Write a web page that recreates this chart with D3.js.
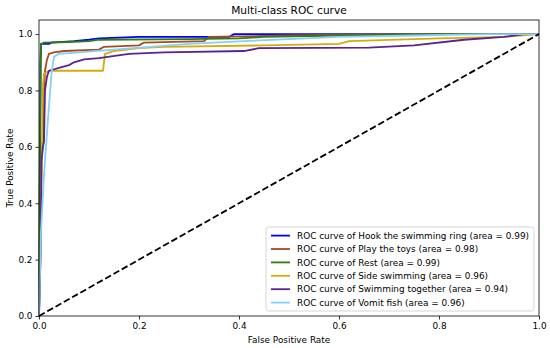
<!DOCTYPE html>
<html>
<head>
<meta charset="utf-8">
<script src="https://cdn.jsdelivr.net/npm/d3@7"></script>
<style>
  html, body { margin: 0; padding: 0; background: #fff; }
  svg { display: block; font-family: "DejaVu Sans", sans-serif; }
</style>
</head>
<body>
<div id="chart"></div>
<script>
// Class names and their AUC values (legend order = drawing order).
const classNames = [
  "Hook the swimming ring",
  "Play the toys",
  "Rest",
  "Side swimming",
  "Swimming together",
  "Vomit fish",
];
const aucValues = [0.99, 0.98, 0.99, 0.96, 0.94, 0.96];

// ROC points per class, [fpr, tpr].
const hookRing = [[0, 0], [0.002, 0.35], [0.003, 0.9], [0.004, 0.965], [0.02, 0.965], [0.025, 0.97], [0.07, 0.975], [0.1, 0.98], [0.12, 0.985], [0.2, 0.99], [0.38, 0.99], [0.39, 1.0], [1, 1]];
const playToys = [[0, 0], [0.003, 0.25], [0.005, 0.6], [0.008, 0.62], [0.01, 0.8], [0.012, 0.87], [0.016, 0.91], [0.02, 0.93], [0.03, 0.935], [0.05, 0.94], [0.12, 0.945], [0.13, 0.955], [0.2, 0.96], [0.21, 0.97], [0.33, 0.975], [0.34, 0.99], [0.5, 0.995], [0.7, 1.0], [1, 1]];
const rest = [[0, 0], [0.001, 0.45], [0.004, 0.965], [0.01, 0.97], [0.06, 0.972], [0.1, 0.975], [0.12, 0.98], [0.3, 0.982], [0.4, 0.985], [0.45, 0.99], [0.6, 0.995], [0.8, 1.0], [1, 1]];
const sideSwimming = [[0, 0], [0.003, 0.3], [0.006, 0.6], [0.008, 0.82], [0.01, 0.86], [0.02, 0.87], [0.128, 0.87], [0.132, 0.93], [0.15, 0.94], [0.2, 0.95], [0.25, 0.955], [0.45, 0.96], [0.6, 0.965], [0.62, 0.975], [0.8, 0.985], [0.93, 0.99], [1, 1]];
const swimTogether = [[0, 0], [0.003, 0.2], [0.005, 0.55], [0.008, 0.6], [0.01, 0.62], [0.012, 0.8], [0.016, 0.85], [0.02, 0.87], [0.04, 0.88], [0.06, 0.89], [0.07, 0.9], [0.09, 0.91], [0.12, 0.915], [0.18, 0.93], [0.25, 0.935], [0.41, 0.94], [0.44, 0.95], [0.66, 0.952], [0.75, 0.96], [0.85, 0.98], [0.93, 0.99], [0.97, 1.0], [1, 1]];
const vomitFish = [[0, 0], [0.004, 0.3], [0.01, 0.5], [0.018, 0.7], [0.025, 0.86], [0.03, 0.92], [0.04, 0.93], [0.08, 0.935], [0.15, 0.945], [0.3, 0.965], [0.41, 0.975], [0.6, 0.99], [0.75, 0.995], [0.9, 1.0], [1, 1]];

const rocCurves = [hookRing, playToys, rest, sideSwimming, swimTogether, vomitFish];
const chanceLine = [[0, 0], [1, 1]];

// Tick values for both axes.
const tickValues = [0, 0.2, 0.4, 0.6, 0.8, 1.0];

const lineColors = ["#0000ff", "#a84a20", "#2e7d0e", "#d4ad0c", "#5b2391", "#87cefa"];

/**
 * Renders the multi-class ROC chart.
 */
function RocChart(selector) {
  const width = 550;
  const height = 348;
  const marginTop = 20;
  const marginRight = 11;
  const marginBottom = 32;
  const marginLeft = 39;
  const fontSize = 8.9;

  const container = d3.select(selector);
  container.selectAll("*").remove();

  const svg = container
    .append("svg")
    .attr("width", width)
    .attr("height", height);

  /**
   * Scales.
   */
  const x = d3.scaleLinear().domain([0, 1]).range([marginLeft, width - marginRight]);
  const y = d3.scaleLinear().domain([0, 1.05]).range([height - marginBottom, marginTop]);

  /**
   * Axes.
   */
  const xAxis = svg
    .append("g")
    .attr("transform", `translate(0,${height - marginBottom})`)
    .call(d3.axisBottom(x).tickValues(tickValues).tickFormat(d3.format(".1f")).tickSizeOuter(0).tickSize(3.5).tickPadding(3));

  const yAxis = svg
    .append("g")
    .attr("transform", `translate(${marginLeft},0)`)
    .call(d3.axisLeft(y).tickValues(tickValues).tickFormat(d3.format(".1f")).tickSizeOuter(0).tickSize(3.5).tickPadding(3));

  [xAxis, yAxis].forEach((g) => {
    g.select(".domain").remove();
    g.selectAll("line").attr("stroke", "#000").attr("stroke-width", 0.8);
    g.selectAll("text")
      .attr("fill", "#000")
      .attr("font-size", fontSize)
      .attr("font-family", "DejaVu Sans");
  });

  /**
   * Curves.
   */
  const plot = svg.append("g");

  const line = d3
    .line()
    .x((d) => x(d[0]))
    .y((d) => y(d[1]));

  plot
    .selectAll("path.roc")
    .data(rocCurves)
    .join("path")
    .attr("class", "roc")
    .attr("d", line)
    .attr("fill", "none")
    .attr("stroke", (d, i) => lineColors[i])
    .attr("stroke-width", 1.8)
    .attr("stroke-linejoin", "round");

  // Chance diagonal.
  plot
    .append("path")
    .datum(chanceLine)
    .attr("d", line)
    .attr("fill", "none")
    .attr("stroke", "#000")
    .attr("stroke-width", 1.8)
    .attr("stroke-dasharray", "6.6,2.9");

  // Frame of the axes.
  svg
    .append("rect")
    .attr("x", x(0))
    .attr("y", y(1.05))
    .attr("width", x(1) - x(0))
    .attr("height", y(0) - y(1.05))
    .attr("fill", "none")
    .attr("stroke", "#000")
    .attr("stroke-width", 0.8);

  /**
   * Legend.
   */
  const legendLeft = 266;
  const legendTop = 227;
  const legendWidth = 268;
  const rowHeight = 13.4;
  const legend = svg.append("g");

  legend
    .append("rect")
    .attr("x", legendLeft)
    .attr("y", legendTop)
    .attr("width", legendWidth)
    .attr("height", 84)
    .attr("rx", 2.5)
    .attr("fill", "#fff")
    .attr("fill-opacity", 0.8)
    .attr("stroke", "#cccccc")
    .attr("stroke-width", 0.8);

  const rows = legend
    .selectAll("g.row")
    .data(classNames)
    .join("g")
    .attr("class", "row")
    .attr("transform", (d, i) => `translate(${legendLeft},${legendTop + 8.6 + i * rowHeight})`);

  rows
    .append("line")
    .attr("x1", 5)
    .attr("x2", 24)
    .attr("stroke", (d, i) => lineColors[i])
    .attr("stroke-width", 1.8);

  rows
    .append("text")
    .attr("x", 31)
    .attr("dy", "0.35em")
    .attr("font-size", fontSize)
    .attr("fill", "#000")
    .text((d, i) => `ROC curve of ${d} (area = ${aucValues[i].toFixed(2)})`);

  /**
   * Titles.
   */
  svg
    .append("text")
    .attr("x", (x(0) + x(1)) / 2)
    .attr("y", 14)
    .attr("text-anchor", "middle")
    .attr("font-size", 10.6)
    .attr("fill", "#000")
    .text("Multi-class ROC curve");

  svg
    .append("text")
    .attr("x", (x(0) + x(1)) / 2)
    .attr("y", 343)
    .attr("text-anchor", "middle")
    .attr("font-size", fontSize)
    .attr("fill", "#000")
    .text("False Positive Rate");

  svg
    .append("text")
    .attr("transform", `translate(13,${(y(0) + y(1.05)) / 2}) rotate(-90)`)
    .attr("text-anchor", "middle")
    .attr("font-size", fontSize)
    .attr("fill", "#000")
    .text("True Positive Rate");
}

RocChart("#chart");
</script>
</body>
</html>
